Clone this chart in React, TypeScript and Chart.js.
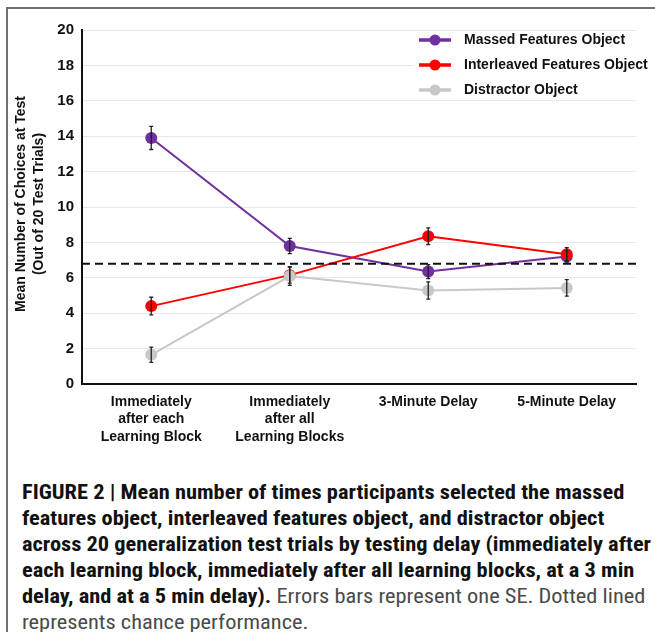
import React, { useEffect, useRef } from "react";
import { Chart, registerables } from "chart.js";
Chart.register(...registerables);

const categories: (string | string[])[] = [
  ["Immediately", "after each", "Learning Block"],
  ["Immediately", "after all", "Learning Blocks"],
  "3-Minute Delay",
  "5-Minute Delay",
];
const seriesNames = ["Massed Features Object", "Interleaved Features Object", "Distractor Object"];
const massed = [13.9, 7.8, 6.35, 7.2];
const massedSE = [0.65, 0.43, 0.4, 0.32];
const interleaved = [4.4, 6.15, 8.35, 7.33];
const interleavedSE = [0.5, 0.45, 0.47, 0.38];
const distractor = [1.65, 6.1, 5.28, 5.43];
const distractorSE = [0.43, 0.53, 0.49, 0.47];
const chanceLevel = 6.8;
const yTicks = [0, 2, 4, 6, 8, 10, 12, 14, 16, 18, 20];
const yTitle = ["Mean Number of Choices at Test", "(Out of 20 Test Trials)"];

const colors = ["#7030A0", "#FF0000", "#C8C8C8"];
const FONT = "'Liberation Sans', Arial, sans-serif";

const errorBarPlugin = {
  id: "errorBars",
  afterDatasetsDraw(chart: any) {
    const ctx = chart.ctx;
    const y = chart.scales.y;
    ctx.save();
    ctx.strokeStyle = "#222";
    ctx.lineWidth = 1.3;
    chart.data.datasets.forEach((ds: any, i: number) => {
      const meta = chart.getDatasetMeta(i);
      const errs: number[] = ds.errors || [];
      meta.data.forEach((pt: any, j: number) => {
        const v = ds.data[j];
        const e = errs[j];
        if (e == null) return;
        const yTop = y.getPixelForValue(v + e);
        const yBot = y.getPixelForValue(v - e);
        const x = pt.x;
        ctx.beginPath();
        ctx.moveTo(x, yTop);
        ctx.lineTo(x, yBot);
        ctx.moveTo(x - 2, yTop);
        ctx.lineTo(x + 2, yTop);
        ctx.moveTo(x - 2, yBot);
        ctx.lineTo(x + 2, yBot);
        ctx.stroke();
      });
    });
    ctx.restore();
  },
};

const chancePlugin = {
  id: "chanceLine",
  afterDatasetsDraw(chart: any) {
    const ctx = chart.ctx;
    const a = chart.chartArea;
    const yy = chart.scales.y.getPixelForValue(chanceLevel);
    ctx.save();
    ctx.strokeStyle = "#111";
    ctx.lineWidth = 2;
    ctx.setLineDash([8, 5]);
    ctx.beginPath();
    ctx.moveTo(a.left, yy);
    ctx.lineTo(a.right, yy);
    ctx.stroke();
    ctx.restore();
  },
};

const legendPlugin = {
  id: "customLegend",
  afterDraw(chart: any) {
    const ctx = chart.ctx;
    const a = chart.chartArea;
    ctx.save();
    ctx.fillStyle = "#fff";
    ctx.fillRect(414, a.top + 2, a.right - 414, 67);
    ctx.font = `bold 14px ${FONT}`;
    ctx.textBaseline = "middle";
    seriesNames.forEach((name, i) => {
      const cy = 40 + i * 25;
      ctx.strokeStyle = colors[i];
      ctx.lineWidth = 3.5;
      ctx.beginPath();
      ctx.moveTo(419, cy);
      ctx.lineTo(451, cy);
      ctx.stroke();
      ctx.fillStyle = colors[i];
      ctx.beginPath();
      ctx.arc(435, cy, 5.5, 0, Math.PI * 2);
      ctx.fill();
      ctx.fillStyle = "#111";
      ctx.fillText(name, 464, cy);
    });
    ctx.restore();
  },
};

const yTitlePlugin = {
  id: "yTitle",
  afterDraw(chart: any) {
    const ctx = chart.ctx;
    const a = chart.chartArea;
    const cy = (a.top + a.bottom) / 2 - 3;
    ctx.save();
    ctx.fillStyle = "#111";
    ctx.font = `bold 14px ${FONT}`;
    ctx.textAlign = "center";
    ctx.textBaseline = "middle";
    [21, 39].forEach((x, i) => {
      ctx.save();
      ctx.translate(x, cy);
      ctx.rotate(-Math.PI / 2);
      ctx.fillText(yTitle[i], 0, 0);
      ctx.restore();
    });
    ctx.restore();
  },
};

function ChartView() {
  const ref = useRef<HTMLCanvasElement | null>(null);
  useEffect(() => {
    if (!ref.current) return;
    const mk = (label: string, data: number[], errors: number[], i: number, order: number) => ({
      label,
      data,
      errors,
      order,
      borderColor: colors[i],
      backgroundColor: colors[i],
      pointBackgroundColor: colors[i],
      pointBorderColor: colors[i],
      borderWidth: 2,
      pointRadius: 6,
      pointBorderWidth: 0,
      tension: 0,
    });
    const chart = new Chart(ref.current, {
      type: "line",
      data: {
        labels: categories,
        datasets: [
          mk(seriesNames[0], massed, massedSE, 0, 3),
          mk(seriesNames[1], interleaved, interleavedSE, 1, 2),
          mk(seriesNames[2], distractor, distractorSE, 2, 1),
        ] as any,
      },
      options: {
        animation: false,
        responsive: false,
        layout: { padding: { top: 30, right: 19, left: 0, bottom: 0 } },
        plugins: { legend: { display: false }, tooltip: { enabled: false } },
        scales: {
          x: {
            offset: true,
            grid: { display: false, drawTicks: false },
            border: { color: "#111", width: 2 },
            ticks: {
              color: "#111",
              font: { family: FONT, size: 14, weight: "bold", lineHeight: 1.25 },
              padding: 9,
              maxRotation: 0,
              autoSkip: false,
            },
            afterFit(s: any) {
              s.height = 76;
            },
          },
          y: {
            min: 0,
            max: 20,
            afterBuildTicks(s: any) {
              s.ticks = yTicks.map((v) => ({ value: v }));
            },
            grid: { color: "#E8E8E8", lineWidth: 1, drawTicks: false },
            border: { color: "#111", width: 2 },
            ticks: {
              color: "#111",
              font: { family: FONT, size: 15, weight: "bold" },
              padding: 8,
            },
            afterFit(s: any) {
              s.width = 82;
            },
          },
        },
      } as any,
      plugins: [chancePlugin, errorBarPlugin, legendPlugin, yTitlePlugin],
    });
    return () => chart.destroy();
  }, []);
  return <canvas ref={ref} width={655} height={460} style={{ position: "absolute", left: 0, top: 0 }} />;
}

const CAP_FONT = "'Liberation Sans Narrow', 'Roboto Condensed', 'Liberation Sans', Arial, sans-serif";

export default function App() {
  const boldLines = [
    "FIGURE 2 | Mean number of times participants selected the massed",
    "features object, interleaved features object, and distractor object",
    "across 20 generalization test trials by testing delay (immediately after",
    "each learning block, immediately after all learning blocks, at a 3 min",
  ];
  return (
    <div style={{ position: "absolute", left: 0, top: 0, width: 655, height: 632, background: "#fff", overflow: "hidden" }}>
      <div style={{ position: "absolute", left: 6, top: 7, width: 660, height: 640, borderTop: "2px solid #707070", borderLeft: "2px solid #707070" }} />
      <ChartView />
      <div
        style={{
          position: "absolute",
          left: 22,
          top: 479,
          fontFamily: CAP_FONT,
          fontSize: 20,
          lineHeight: "26px",
          color: "#111",
          whiteSpace: "nowrap",
          transform: "scaleX(1.12)",
          transformOrigin: "left top",
        }}
      >
        {boldLines.map((l, i) => (
          <div key={i} style={{ fontWeight: "bold" }}>{l}</div>
        ))}
        <div>
          <span style={{ fontWeight: "bold" }}>delay, and at a 5 min delay).</span>
          <span style={{ color: "#4a4a4a" }}> Errors bars represent one SE. Dotted lined</span>
        </div>
        <div style={{ color: "#4a4a4a" }}>represents chance performance.</div>
      </div>
    </div>
  );
}
